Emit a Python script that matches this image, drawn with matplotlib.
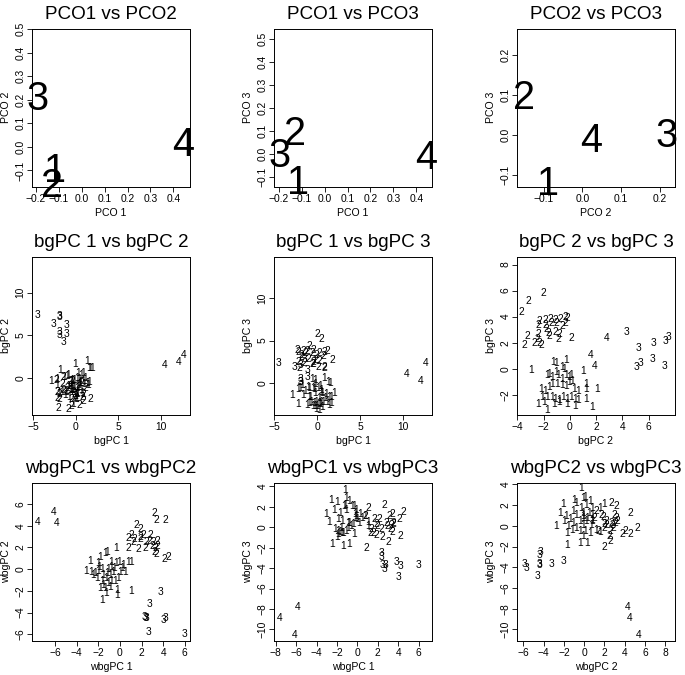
import matplotlib
matplotlib.use("Agg")
import matplotlib.pyplot as plt
from matplotlib.transforms import offset_copy

plt.rcParams['font.family'] = ['Liberation Sans', 'DejaVu Sans']

# ---- PCO of group means ----
pco_group = [1, 2, 3, 4]
pco1 = [-0.118, -0.13, -0.195, 0.444]
pco2 = [-0.088, -0.152, 0.218, 0.022]
pco3 = [-0.115, 0.10, 0.006, -0.006]

# ---- between-group PCA scores ----
bg_g1_pc1 = [-0.3, 0.8, -0.6, -0.2, 1.3, 1.5, -1.8, -2.0, -1.1, -0.4, 0.3, -0.9, 0.5, -0.5, -2.2, 0.1, -1.4,
             -0.8, 0.2, -1.6, 0.6, -0.3, 1.0, -2.95, 0.4, -1.0, 0.9, -0.1, 0.7, -0.7, 0.2, -2.25, 0.5, -0.4,
             1.1, -0.9, 0.3, 0.0, -1.2, 0.2, -0.5, 1.4, -0.2, 0.6, 1.95, 1.6, 1.33, 1.63, -0.1]
bg_g1_pc2 = [-2.98, -0.25, -1.27, -1.07, -0.56, -0.43, 0.97, -1.70, -1.58, -1.32, -1.07, -0.87, -0.56, -0.31,
             -0.05, 0.08, 0.20, -2.21, -1.88, -1.58, -1.32, -0.94, -0.61, -0.31, -0.05, 0.33, 0.59, -2.09, -1.70,
             -1.37, -1.12, -0.81, -0.51, -0.18, 0.08, 0.41, 0.66, -2.39, -1.96, -1.70, -1.20, -0.81, -0.18, 0.41,
             1.22, 1.27, 2.04, 1.22, 1.68]
bg_g1_pc3 = [-0.03, 0.74, 0.56, 0.49, 0.18, 0.05, -0.13, -0.46, -0.33, -0.59, -0.21, -0.46, -0.72, -0.46, -0.59,
             -0.46, -0.85, -1.49, -1.62, -1.36, -1.10, -1.10, -1.23, -1.30, -0.97, -1.49, -1.62, -2.13, -2.13,
             -2.08, -2.26, -2.38, -2.13, -2.26, -2.08, -2.26, -2.38, -2.64, -2.51, -3.10, -2.64, -2.51, -2.64,
             -2.77, -1.10, -1.49, -1.49, -2.26, -2.90]

bg_g2_pc1 = [0.0, 0.47, -0.9, -2.18, 0.86, -1.1, 1.17, -1.6, -0.4, -2.27, -0.6, 0.66, -1.88, -0.12, -1.4, 0.3,
             -1.87, -0.23, -2.18, -1.0, 0.27, 1.75, -0.51, -0.62, -1.5, -2.07, 0.86, 0.08, 0.78, -0.51]
bg_g2_pc2 = [-2.04, -3.16, -3.66, -2.29, -1.83, -1.45, -1.12, -0.69, -0.36, -0.18, -0.31, -0.56, -2.39, -1.83,
             -1.37, -1.02, -1.78, -1.65, -1.58, -1.12, -0.81, -2.39, -3.23, -0.87, 0.15, -3.49, -2.72, -2.34,
             -2.14, -2.47]
bg_g2_pc3 = [5.87, 5.26, 4.38, 3.74, 3.79, 3.87, 3.82, 3.87, 4.0, 3.92, 3.56, 3.31, 3.38, 3.38, 3.56, 3.56, 3.13,
             2.79, 2.54, 2.87, 2.69, 2.74, 2.54, 2.36, 2.44, 1.85, 2.03, 2.03, 1.85, 2.36]

bg_g3_pc1 = [-4.5, -1.95, -1.9, -2.66, -1.09, -1.95, -1.09, -1.9, -1.48]
bg_g3_pc2 = [7.5, 7.3, 7.2, 6.4, 6.3, 5.4, 5.2, 5.1, 4.3]
bg_g3_pc3 = [2.49, 2.18, 0.26, 2.0, 0.82, 0.51, 1.67, 0.2, 2.87]

bg_g4_pc1 = [10.4, 12.1, 12.7]
bg_g4_pc2 = [1.55, 1.9, 2.8]
bg_g4_pc3 = [1.1, 0.3, 2.45]

# ---- within/between-group PCA scores ----
wbg_g1_pc1 = [-0.31, -1.14, -1.38, -1.85, -2.77, 0.77, -0.09, -0.77, 1.08, -0.31, -2.0, 0.31, -1.9, -0.77, -0.5,
              0.2, -1.69, -1.08, -3.08, -2.0, -2.62, 0.0, 0.46, -0.62, -2.31, -1.2, -1.54, -2.46, -0.92, -0.15,
              -2.15, -1.23, -0.77, -1.69, -0.46, -1.08, -1.54, -0.9, -1.38, -1.85, -0.22, 1.02, -1.32, -0.22, -1.63]
wbg_g1_pc2 = [1.97, 1.61, 1.52, 1.21, 0.82, 0.76, 0.76, 0.76, 0.7, 0.61, 0.61, 0.45, 0.3, 0.3, 0.2, 0.2, 0.09,
              0.09, -0.09, -0.09, -0.15, -0.15, -0.15, -0.15, -0.3, -0.3, -0.45, -0.45, -0.45, -0.76, -0.76, -0.76,
              -1.0, -1.06, -1.06, -1.21, -1.36, -1.6, -1.67, -1.67, -1.82, -1.97, -2.12, -2.33, -2.73]
wbg_g1_pc3 = [2.19, 1.8, -0.51, -0.29, 0.6, 1.16, 1.8, 0.51, 0.19, -0.61, 2.5, 1.32, 0.84, -1.58, 2.12, 0.51,
              -0.39, 2.9, 1.32, -0.9, 2.77, 0.84, 1.0, 0.19, 1.8, 3.73, -0.45, -1.58, 0.51, 1.16, -0.13, 2.28,
              2.6, 1.48, 0.35, -0.3, 0.68, 0.03, -1.74, -0.61, 1.0, 0.58, 2.19, 1.32, 0.03]

wbg_g2_pc1 = [3.23, 3.38, 4.22, 1.54, 1.85, 2.86, 1.08, 2.15, 1.85, 0.77, 1.38, 1.94, 2.68, 3.48, 3.08, 1.23,
              2.46, 2.98, 3.48, 0.83, 2.37, 3.29, 1.69, 3.17, 3.38, 4.46, 4.09]
wbg_g2_pc2 = [5.24, 4.55, 4.55, 4.09, 3.79, 3.24, 3.18, 3.18, 3.03, 2.94, 2.88, 2.82, 2.64, 2.64, 2.58, 2.58,
              2.52, 2.21, 2.21, 2.03, 2.03, 1.97, 1.91, 1.67, 1.42, 1.21, 0.97]
wbg_g2_pc3 = [-0.13, 1.32, -0.77, -0.45, -0.71, 0.51, 1.96, 0.84, 0.35, 1.16, -0.13, 0.19, 2.28, 0.35, -1.41,
              -0.45, -0.93, 0.19, 0.51, -1.99, -0.13, 0.26, 0.9, 1.16, -0.39, 1.54, 0.84]

wbg_g3_pc1 = [5.94, 3.78, 4.0, 4.22, 2.68, 2.77, 2.46, 2.31, 2.35]
wbg_g3_pc2 = [-5.9, -2.06, -4.64, -4.45, -5.7, -3.18, -4.39, -4.33, -4.45]
wbg_g3_pc3 = [-3.6, -3.34, -4.8, -3.75, -4.05, -3.67, -3.6, -2.45, -2.8]

wbg_g4_pc1 = [-5.87, -7.6, -6.15]
wbg_g4_pc2 = [4.33, 4.45, 5.36]
wbg_g4_pc3 = [-7.77, -8.8, -10.5]


def combine(*groups):
    xs, ys, zs, labs = [], [], [], []
    for lab, (a, b, c) in enumerate(groups, start=1):
        xs += a
        ys += b
        zs += c
        labs += [lab] * len(a)
    return xs, ys, zs, labs


bg1, bg2, bg3, bg_lab = combine((bg_g1_pc1, bg_g1_pc2, bg_g1_pc3), (bg_g2_pc1, bg_g2_pc2, bg_g2_pc3),
                                (bg_g3_pc1, bg_g3_pc2, bg_g3_pc3), (bg_g4_pc1, bg_g4_pc2, bg_g4_pc3))
wb1, wb2, wb3, wb_lab = combine((wbg_g1_pc1, wbg_g1_pc2, wbg_g1_pc3), (wbg_g2_pc1, wbg_g2_pc2, wbg_g2_pc3),
                                (wbg_g3_pc1, wbg_g3_pc2, wbg_g3_pc3), (wbg_g4_pc1, wbg_g4_pc2, wbg_g4_pc3))

dec = [-0.2, -0.1, 0.0, 0.1, 0.2, 0.3, 0.4, 0.5]

panels = [
    # x, y, labels, title, xlabel, ylabel, xlim, ylim, xticks, yticks, label size
    (pco1, pco2, pco_group, "PCO1 vs PCO2", "PCO 1", "PCO 2", (-0.2175, 0.473), (-0.168, 0.50), dec[:7], dec[1:], 28.5),
    (pco1, pco3, pco_group, "PCO1 vs PCO3", "PCO 1", "PCO 3", (-0.2205, 0.468), (-0.142, 0.543), dec[:7], dec[1:], 28.5),
    (pco2, pco3, pco_group, "PCO2 vs PCO3", "PCO 2", "PCO 3", (-0.169, 0.239), (-0.129, 0.265), dec[1:5], dec[1:5], 28.5),
    (bg1, bg2, bg_lab, "bgPC 1 vs bgPC 2", "bgPC 1", "bgPC 2", (-5.14, 13.4), (-4.33, 14.2), [-5, 0, 5, 10], [0, 5, 10], 7.4),
    (bg1, bg3, bg_lab, "bgPC 1 vs bgPC 3", "bgPC 1", "bgPC 3", (-5.05, 13.4), (-3.68, 14.8), [-5, 0, 5, 10], [0, 5, 10], 7.4),
    (bg2, bg3, bg_lab, "bgPC 2 vs bgPC 3", "bgPC 2", "bgPC 3", (-4.02, 8.0), (-3.51, 8.58), [-4, -2, 0, 2, 4, 6], [-2, 0, 2, 4, 6, 8], 7.4),
    (wb1, wb2, wb_lab, "wbgPC1 vs wbgPC2", "wbgPC 1", "wbgPC 2", (-8.12, 6.48), (-6.56, 7.93), [-6, -4, -2, 0, 2, 4, 6], [-6, -4, -2, 0, 2, 4, 6], 7.4),
    (wb1, wb3, wb_lab, "wbgPC1 vs wbgPC3", "wbgPC 1", "wbgPC 3", (-8.16, 7.3), (-11.08, 4.33), [-8, -6, -4, -2, 0, 2, 4, 6], [-10, -8, -6, -4, -2, 0, 2, 4], 7.4),
    (wb2, wb3, wb_lab, "wbgPC2 vs wbgPC3", "wbgPC 2", "wbgPC 3", (-6.62, 8.95), (-11.08, 4.14), [-6, -4, -2, 0, 2, 4, 6, 8], [-10, -8, -6, -4, -2, 0, 2, 4], 7.4),
]

W, H = 685, 675
fig = plt.figure(figsize=(W / 100, H / 100), dpi=100)
lefts = [32, 274, 517]
tops = [29, 257, 483]
aw, ah = 158, 157.5

for i, (x, y, lab, title, xl, yl, xlim, ylim, xt, yt, fs) in enumerate(panels):
    r, c = divmod(i, 3)
    ax = fig.add_axes([lefts[c] / W, 1 - (tops[r] + ah) / H, aw / W, ah / H])
    ax.set_xlim(xlim)
    ax.set_ylim(ylim)
    ax.set_xticks(xt)
    ax.set_yticks(yt)
    if fs > 10:
        fmt = "{:.1f}"
        ax.set_xticklabels([fmt.format(v).replace("-", "\u2212") for v in xt])
        ax.set_yticklabels([fmt.format(v).replace("-", "\u2212") for v in yt])
    ax.tick_params(direction='out', length=3.3, width=0.6, labelsize=7.4, color='black')
    ax.tick_params(axis='x', pad=2.0)
    ax.tick_params(axis='y', pad=1.5, labelrotation=90)
    for lbl in ax.get_yticklabels():
        lbl.set_va('center')
    for s in ax.spines.values():
        s.set_linewidth(0.7)
    ax.set_title(title, fontsize=13.6, pad=7.5)
    ax.set_xlabel(xl, fontsize=7.6)
    ax.set_ylabel(yl, fontsize=7.6)
    ax.xaxis.set_label_coords(0.5, -21.0 / ah)
    ax.yaxis.set_label_coords(-21.0 / aw, 0.5)
    tr = offset_copy(ax.transData, fig=fig, y=-0.358 * fs, units='points')
    for xi, yi, li in zip(x, y, lab):
        ax.text(xi, yi, str(li), transform=tr, ha='center', va='baseline', fontsize=fs, clip_on=False)

fig.savefig("out.png", dpi=100)
